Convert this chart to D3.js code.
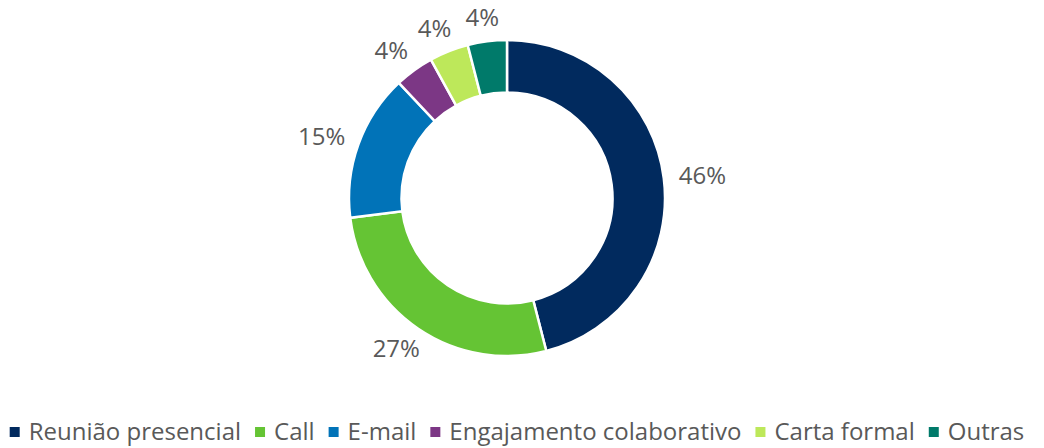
<!DOCTYPE html>
<html>
<head>
<meta charset="utf-8">
<script src="https://cdn.jsdelivr.net/npm/d3@7"></script>
<style>
  body { margin: 0; background: #fff; }
  text { font-family: "Open Sans", sans-serif; }
</style>
</head>
<body>
<div id="chart"></div>
<script>
// chart data
var categories = ["Reunião presencial", "Call", "E-mail", "Engajamento colaborativo", "Carta formal", "Outras"];
var values = [46, 27, 15, 4, 4, 4];
var labels = ["46%", "27%", "15%", "4%", "4%", "4%"];
var colors = ["#012a5e", "#65c434", "#0173b8", "#7c3785", "#bde85a", "#007a6a"];

var width = 1044, height = 448;
var cx = 507, cy = 198;
var outerR = 158, innerR = 105.5, anchorR = 173;
var halfW = 24, halfH = 9; // rough half size of a label box

var svg = d3.select("#chart")
  .append("svg")
  .attr("width", width)
  .attr("height", height);

var pie = d3.pie().sort(null).value(function(d) { return d; });
var arcs = pie(values);

var arc = d3.arc().innerRadius(innerR).outerRadius(outerR);

var g = svg.append("g")
  .attr("transform", "translate(" + cx + "," + cy + ")");

// slices
g.selectAll("path")
  .data(arcs)
  .enter()
  .append("path")
  .attr("d", arc)
  .attr("fill", function(d, i) { return colors[i]; })
  .attr("stroke", "#fff")
  .attr("stroke-width", 2.5);

// percentage labels outside, box pushed away from the ring
g.selectAll(".lbl")
  .data(arcs)
  .enter()
  .append("text")
  .attr("class", "lbl")
  .attr("transform", function(d) {
    var a = (d.startAngle + d.endAngle) / 2;
    var sx = Math.sin(a), sy = -Math.cos(a);
    return "translate(" + (sx * (anchorR + halfW)) + "," + (sy * anchorR + sy * halfH) + ")";
  })
  .attr("text-anchor", "middle")
  .attr("dy", "0.36em")
  .attr("font-size", 24)
  .attr("fill", "#595959")
  .text(function(d, i) { return labels[i]; });

// legend
var legend = svg.append("g");
var x = 0, gap = 14;
categories.forEach(function(c, i) {
  var item = legend.append("g").attr("transform", "translate(" + x + ",0)");
  item.append("rect")
    .attr("x", 0).attr("y", -5)
    .attr("width", 10).attr("height", 10)
    .attr("fill", colors[i]);
  var t = item.append("text")
    .attr("x", 19)
    .attr("dy", "0.35em")
    .attr("font-size", 24)
    .attr("fill", "#595959")
    .text(c);
  x += 19 + t.node().getComputedTextLength() + gap;
});
var legendW = x - gap;
legend.attr("transform", "translate(" + (517 - legendW / 2) + ",432)");
</script>
</body>
</html>
